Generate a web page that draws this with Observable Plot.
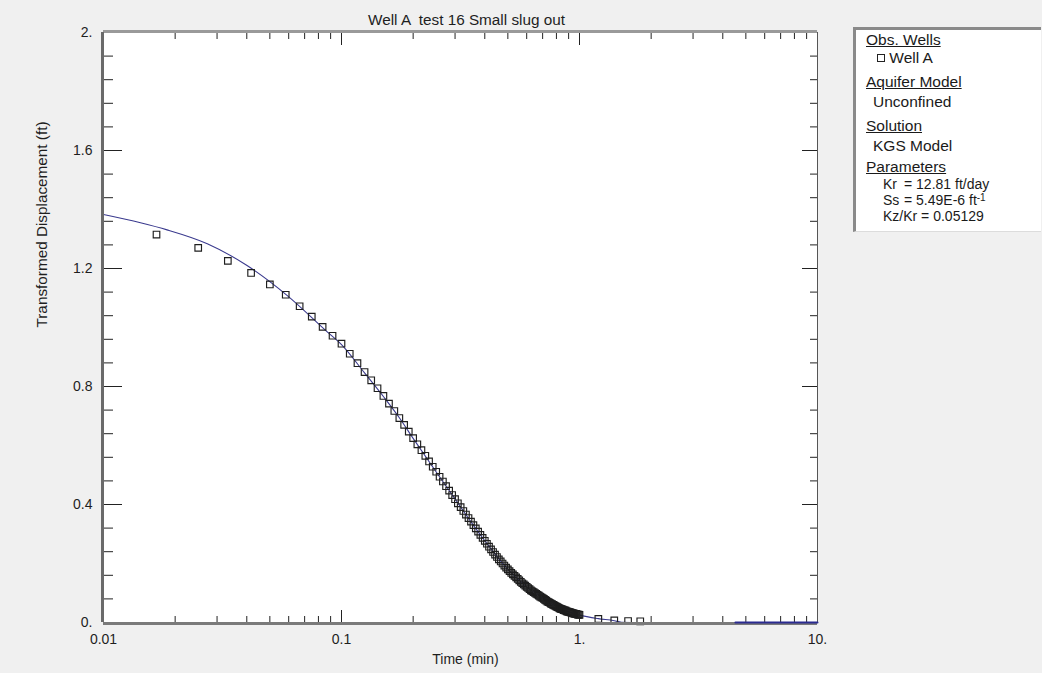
<!DOCTYPE html>
<html><head><meta charset="utf-8">
<script src="https://cdn.jsdelivr.net/npm/d3@7"></script>
<script src="https://cdn.jsdelivr.net/npm/@observablehq/plot@0.6"></script>
<style>
body{margin:0;background:#f0f0f0;font-family:"Liberation Sans",Arial,sans-serif;}
#wrap{position:relative;width:1042px;height:673px;overflow:hidden;}
#wrap svg{position:absolute;left:0;top:0;}
#legend{position:absolute;left:853px;top:27px;width:188px;height:205px;background:#fff;border-left:3px solid #8a8a8a;border-top:3px solid #8a8a8a;border-bottom:1px solid #dcdcdc;box-sizing:border-box;font-size:15.5px;color:#1a1a1a;}
#legend div{position:absolute;white-space:nowrap;line-height:1;}
#legend div.p{font-size:14px;}
#legend .u{text-decoration:underline;}
#legend .sq{display:inline-block;width:6px;height:6px;border:1px solid #222;vertical-align:1px;}
#legend sup{font-size:10px;vertical-align:4px;line-height:0;}
</style></head><body><div id="wrap"><div id="legend"></div></div>
<script>
const title = "Well A  test 16 Small slug out";
const xAxisLabel = "Time (min)";
const yAxisLabel = "Transformed Displacement (ft)";

const xMajor = [0.01, 0.1, 1, 10];
const xTickLabels = ["0.01", "0.1", "1.", "10."];
const xMinor = [0.02,0.03,0.04,0.05,0.06,0.07,0.08,0.09,0.2,0.3,0.4,0.5,0.6,0.7,0.8,0.9,2,3,4,5,6,7,8,9];
const yMajor = [0, 0.4, 0.8, 1.2, 1.6, 2];
const yTickLabels = ["0.", "0.4", "0.8", "1.2", "1.6", "2."];
const yMinor = [0.08,0.16,0.24,0.32,0.48,0.56,0.64,0.72,0.88,0.96,1.04,1.12,1.28,1.36,1.44,1.52,1.68,1.76,1.84,1.92];

// Observed (Well A) — time in minutes, transformed displacement in ft
const obsTime = [0.0167,0.025,0.0333,0.0417,0.05,0.0583,0.0667,0.075,0.0833,0.0917,0.1,
0.1083,0.1167,0.125,0.1333,0.1417,0.15,0.1583,0.1667,0.175,0.1833,0.1917,0.2,
0.2083,0.2167,0.225,0.2333,0.2417,0.25,0.2583,0.2667,0.275,0.2833,0.2917,0.3,
0.3083,0.3167,0.325,0.3333,0.3417,0.35,0.3583,0.3667,0.375,0.3833,0.3917,0.4,
0.4083,0.4167,0.425,0.4333,0.4417,0.45,0.4583,0.4667,0.475,0.4833,0.4917,0.5,
0.5083,0.5167,0.525,0.5333,0.5417,0.55,0.5583,0.5667,0.575,0.5833,0.5917,0.6,
0.6083,0.6167,0.625,0.6333,0.6417,0.65,0.6583,0.6667,0.675,0.6833,0.6917,0.7,
0.7083,0.7167,0.725,0.7333,0.7417,0.75,0.7583,0.7667,0.775,0.7833,0.7917,0.8,
0.8083,0.8167,0.825,0.8333,0.8417,0.85,0.8583,0.8667,0.875,0.8833,0.8917,0.9,
0.9083,0.9167,0.925,0.9333,0.9417,0.95,0.9583,0.9667,0.975,0.9833,0.9917,1.0,
1.2,1.4,1.6,1.8];
const obsDisp = [1.315,1.270,1.226,1.185,1.146,1.111,1.072,1.037,1.002,0.972,0.945,
0.911,0.879,0.849,0.821,0.794,0.768,0.742,0.717,0.693,0.670,0.647,0.625,
0.604,0.584,0.565,0.546,0.528,0.511,0.494,0.478,0.462,0.447,0.432,0.418,
0.404,0.391,0.378,0.366,0.354,0.342,0.330,0.319,0.308,0.297,0.287,0.277,
0.267,0.257,0.248,0.239,0.230,0.222,0.214,0.207,0.200,0.193,0.186,0.180,
0.174,0.168,0.163,0.158,0.153,0.148,0.143,0.138,0.133,0.129,0.125,0.121,
0.117,0.113,0.109,0.106,0.103,0.100,0.097,0.094,0.091,0.088,0.085,0.083,
0.080,0.077,0.074,0.071,0.069,0.067,0.064,0.062,0.060,0.058,0.056,0.054,
0.052,0.050,0.048,0.046,0.045,0.044,0.042,0.041,0.040,0.038,0.037,0.036,
0.035,0.034,0.033,0.032,0.031,0.030,0.029,0.029,0.028,0.027,0.027,0.026,
0.012,0.007,0.005,0.004];

// KGS model curve
const modelTime = [0.01,0.0143,0.0185,0.0273,0.0401,0.0592,0.0871,0.1,0.125,0.15,0.175,0.2,0.25,0.3,0.35,0.4,0.5,0.6,0.7,0.8,0.9,1.0,1.2,1.4,1.5,1.86];
const modelDisp = [1.383,1.355,1.331,1.284,1.210,1.108,0.985,0.942,0.846,0.766,0.694,0.624,0.510,0.419,0.341,0.277,0.180,0.121,0.083,0.054,0.036,0.025,0.013,0.006,0.001,0.0];
const modelTailTime = [4.52, 10];
const modelTailDisp = [0, 0];

const obsRows = obsTime.map((t, i) => ({t, y: obsDisp[i]}));
const modelRows = modelTime.map((t, i) => ({t, y: modelDisp[i]}));
const tailRows = modelTailTime.map((t, i) => ({t, y: modelTailDisp[i]}));
const xLab = new Map(xMajor.map((v, i) => [v, xTickLabels[i]]));
const yLab = new Map(yMajor.map((v, i) => [v, yTickLabels[i]]));

const chart = Plot.plot({
  width: 1042, height: 673,
  marginLeft: 103, marginRight: 225, marginTop: 32, marginBottom: 51,
  style: {background: "transparent", fontFamily: "'Liberation Sans', Arial, sans-serif", fontSize: "14px", color: "#1e1e1e", overflow: "visible"},
  x: {type: "log", domain: [0.01, 10]},
  y: {domain: [0, 2]},
  marks: [
    Plot.frame({fill: "white", stroke: null}),
    Plot.line(modelRows, {x: "t", y: "y", stroke: "#3a3a8e", strokeWidth: 1.1, curve: "monotone-x"}),
    Plot.dot(obsRows, {x: "t", y: "y", symbol: "square", r: 3.7, stroke: "#1e1e1e", fill: "none", strokeWidth: 1.15}),
    // inward ticks
    Plot.axisX({anchor: "bottom", ticks: xMinor, tickSize: 6, dy: -6, tickFormat: () => "", label: null, stroke: "#222"}),
    Plot.axisX({anchor: "bottom", ticks: xMajor, tickSize: 12, dy: -12, tickFormat: () => "", label: null, stroke: "#222"}),
    Plot.axisX({anchor: "top", ticks: xMinor, tickSize: 6, dy: 6, tickFormat: () => "", label: null, stroke: "#222"}),
    Plot.axisX({anchor: "top", ticks: xMajor, tickSize: 12, dy: 12, tickFormat: () => "", label: null, stroke: "#222"}),
    Plot.axisY({anchor: "left", ticks: yMinor, tickSize: 10, dx: 10, tickFormat: () => "", label: null, stroke: "#222"}),
    Plot.axisY({anchor: "left", ticks: yMajor, tickSize: 19, dx: 19, tickFormat: () => "", label: null, stroke: "#222"}),
    Plot.axisY({anchor: "right", ticks: yMinor, tickSize: 8, dx: -8, tickFormat: () => "", label: null, stroke: "#222"}),
    Plot.axisY({anchor: "right", ticks: yMajor, tickSize: 16, dx: -16, tickFormat: () => "", label: null, stroke: "#222"}),
    // tick labels
    Plot.axisX({anchor: "bottom", ticks: xMajor, tickSize: 0, tickPadding: 12, tickFormat: d => xLab.get(d), label: null}),
    Plot.axisY({anchor: "left", ticks: yMajor, tickSize: 0, tickPadding: 11, tickFormat: d => yLab.get(d), label: null}),
    // frame borders
    Plot.ruleY([2], {stroke: "#9a9a9a", strokeWidth: 3, dy: -1}),
    Plot.ruleX([10], {stroke: "#555", strokeWidth: 1}),
    Plot.ruleY([0], {stroke: "#7a7a7a", strokeWidth: 3, dy: 1}),
    Plot.ruleX([0.01], {stroke: "#6a6a6a", strokeWidth: 3, dx: -1}),
    Plot.line(tailRows, {x: "t", y: "y", stroke: "#2a2a90", strokeWidth: 2}),
    // titles
    Plot.text([title], {text: d => d, frameAnchor: "top", dx: 6, dy: -18, fontSize: 15.3}),
    Plot.text([xAxisLabel], {text: d => d, frameAnchor: "bottom", dx: 5, dy: 41, fontSize: 14}),
    Plot.text([yAxisLabel], {text: d => d, frameAnchor: "left", rotate: -90, dx: -61, fontSize: 15.3})
  ]
});
document.getElementById("wrap").prepend(chart);

// Legend panel
const legendRows = [
  {html: '<span class="u">Obs. Wells</span>', left: 10, top: 2},
  {html: '<span class="sq"></span>&nbsp;Well A', left: 21, top: 20},
  {html: '<span class="u">Aquifer Model</span>', left: 10, top: 43.5},
  {html: 'Unconfined', left: 17, top: 64},
  {html: '<span class="u">Solution</span>', left: 10, top: 88},
  {html: 'KGS Model', left: 17, top: 107.5},
  {html: '<span class="u">Parameters</span>', left: 10, top: 128.5},
  {html: 'Kr', left: 27, top: 146.5, cls: "p"},
  {html: '= 12.81 ft/day', left: 48, top: 146.5, cls: "p"},
  {html: 'Ss', left: 27, top: 162.5, cls: "p"},
  {html: '= 5.49E-6 ft<sup>-1</sup>', left: 48, top: 162.5, cls: "p"},
  {html: 'Kz/Kr = 0.05129', left: 27, top: 178.5, cls: "p"}
];
const lg = document.getElementById("legend");
for (const r of legendRows) {
  const d = document.createElement("div");
  d.innerHTML = r.html;
  if (r.cls) d.className = r.cls;
  d.style.left = r.left + "px";
  d.style.top = r.top + "px";
  lg.appendChild(d);
}
</script>
</body></html>
